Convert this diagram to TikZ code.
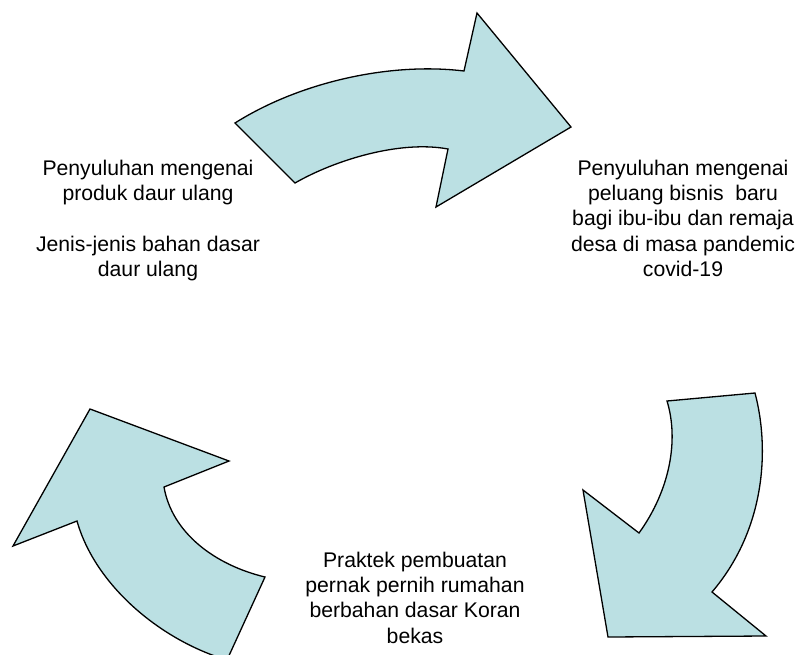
\documentclass[tikz,border=0pt]{standalone}
\usepackage{fontspec}
\setmainfont{Liberation Sans}
\usepackage{tikz}
\definecolor{arrowfill}{HTML}{BBE0E3}
\tikzset{
  cyclearrow/.style={draw=black,line width=1.3pt,fill=arrowfill,line join=miter},
  caption/.style={align=center,inner sep=0pt,anchor=north,
    font=\fontsize{21.2pt}{25.2pt}\selectfont}
}

\begin{document}
\begin{tikzpicture}[x=1pt,y=-1pt]
\useasboundingbox (0,0) rectangle (798,654);
\clip (0,0) rectangle (798,654);
% three curved arrows of the cycle
\draw[cyclearrow] (235,123) .. controls (300,82) and (390,62) .. (464,71) -- (477,13) -- (571,127)
  -- (436,207) -- (448,149) .. controls (400,140) and (335,160) .. (295,183) -- cycle;
\draw[cyclearrow] (667,401) -- (755,393) .. controls (770,450) and (765,530) .. (712,592) -- (766,636)
  -- (608,637) -- (583,490) -- (639,533) .. controls (670,490) and (679,440) .. (667,401) -- cycle;
\draw[cyclearrow] (90,409) -- (229,461) -- (164,487) .. controls (172,533) and (215,565) .. (265,577)
  -- (227,660) .. controls (160,640) and (95,585) .. (77,521) -- (13,546) -- cycle;
% texts
\node[caption] (produk) at (148,160) {Penyuluhan mengenai\\produk daur ulang\\[25.2pt]Jenis-jenis bahan dasar\\daur ulang};
\node[caption] (peluang) at (683,160) {Penyuluhan mengenai\\peluang bisnis\ \ baru\\bagi ibu-ibu dan remaja\\desa di masa pandemic\\covid-19};
\node[caption] (praktek) at (415,552) {Praktek pembuatan\\pernak pernih rumahan\\berbahan dasar Koran\\bekas};
\end{tikzpicture}
\end{document}
